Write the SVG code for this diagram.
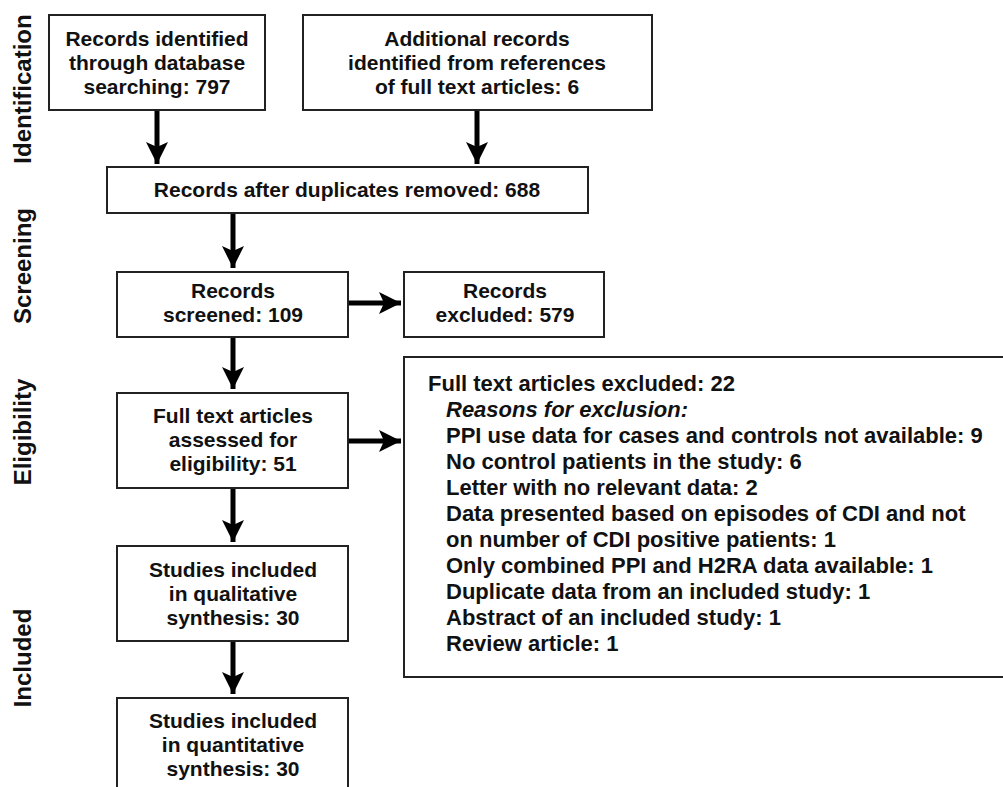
<svg xmlns="http://www.w3.org/2000/svg" width="1003" height="787" viewBox="0 0 1003 787">
<style>
.box{fill:#fff;stroke:#222;stroke-width:2}
.t{font-family:"Liberation Sans",Arial,Helvetica,sans-serif;font-weight:bold;font-size:21px;fill:#111;text-anchor:middle}
.l{font-family:"Liberation Sans",Arial,Helvetica,sans-serif;font-weight:bold;font-size:22px;fill:#111}
.side{font-family:"Liberation Sans",Arial,Helvetica,sans-serif;font-weight:bold;font-size:24px;fill:#111;text-anchor:middle}
.c{stroke:#000;stroke-width:5;fill:none}
</style>
<defs>
<marker id="ah" markerUnits="userSpaceOnUse" markerWidth="24" markerHeight="24" viewBox="0 0 24 24" refX="22" refY="12" orient="auto">
<path d="M0,1 L22,12 L0,23 L5,12 Z" fill="#000"/>
</marker>
</defs>
<rect width="1003" height="787" fill="#fff"/>
<g id="labels">
<text class="side" transform="translate(31,89) rotate(-90)">Identification</text>
<text class="side" transform="translate(31,266) rotate(-90)">Screening</text>
<text class="side" transform="translate(31,432) rotate(-90)">Eligibility</text>
<text class="side" transform="translate(31,658) rotate(-90)">Included</text>
</g>
<g id="connectors">
<line class="c" x1="157" y1="110" x2="157" y2="164" marker-end="url(#ah)"/>
<line class="c" x1="477" y1="110" x2="477" y2="164" marker-end="url(#ah)"/>
<line class="c" x1="233" y1="213" x2="233" y2="268" marker-end="url(#ah)"/>
<line class="c" x1="348" y1="303" x2="401" y2="303" marker-end="url(#ah)"/>
<line class="c" x1="233" y1="337" x2="233" y2="389" marker-end="url(#ah)"/>
<line class="c" x1="348" y1="441" x2="401" y2="441" marker-end="url(#ah)"/>
<line class="c" x1="233" y1="488" x2="233" y2="542" marker-end="url(#ah)"/>
<line class="c" x1="233" y1="641" x2="233" y2="694" marker-end="url(#ah)"/>
</g>
<g id="n1">
<rect class="box" x="49" y="15" width="216" height="95"/>
<text class="t" x="157" y="46">Records identified</text>
<text class="t" x="157" y="70">through database</text>
<text class="t" x="157" y="94">searching: 797</text>
</g>
<g id="n2">
<rect class="box" x="303" y="15" width="349" height="95"/>
<text class="t" x="477" y="46">Additional records</text>
<text class="t" x="477" y="70">identified from references</text>
<text class="t" x="477" y="94">of full text articles: 6</text>
</g>
<g id="n3">
<rect class="box" x="107" y="167" width="481" height="46"/>
<text class="t" x="347" y="197">Records after duplicates removed: 688</text>
</g>
<g id="n4">
<rect class="box" x="117" y="272" width="231" height="65"/>
<text class="t" x="233" y="298">Records</text>
<text class="t" x="233" y="322">screened: 109</text>
</g>
<g id="n5">
<rect class="box" x="404" y="272" width="200" height="65"/>
<text class="t" x="505" y="298">Records</text>
<text class="t" x="505" y="322">excluded: 579</text>
</g>
<g id="n6">
<rect class="box" x="117" y="393" width="231" height="95"/>
<text class="t" x="233" y="423">Full text articles</text>
<text class="t" x="233" y="447">assessed for</text>
<text class="t" x="233" y="471">eligibility: 51</text>
</g>
<g id="n7">
<rect class="box" x="404" y="357" width="606" height="320"/>
<text class="l" x="428" y="391">Full text articles excluded: 22</text>
<text class="l" x="446" y="417" font-style="italic">Reasons for exclusion:</text>
<text class="l" x="446" y="443">PPI use data for cases and controls not available: 9</text>
<text class="l" x="446" y="469">No control patients in the study: 6</text>
<text class="l" x="446" y="495">Letter with no relevant data: 2</text>
<text class="l" x="446" y="521">Data presented based on episodes of CDI and not</text>
<text class="l" x="446" y="547">on number of CDI positive patients: 1</text>
<text class="l" x="446" y="573">Only combined PPI and H2RA data available: 1</text>
<text class="l" x="446" y="599">Duplicate data from an included study: 1</text>
<text class="l" x="446" y="625">Abstract of an included study: 1</text>
<text class="l" x="446" y="651">Review article: 1</text>
</g>
<g id="n8">
<rect class="box" x="117" y="546" width="231" height="95"/>
<text class="t" x="233" y="577">Studies included</text>
<text class="t" x="233" y="601">in qualitative</text>
<text class="t" x="233" y="625">synthesis: 30</text>
</g>
<g id="n9">
<rect class="box" x="117" y="698" width="231" height="110"/>
<text class="t" x="233" y="728">Studies included</text>
<text class="t" x="233" y="752">in quantitative</text>
<text class="t" x="233" y="776">synthesis: 30</text>
</g>
</svg>
